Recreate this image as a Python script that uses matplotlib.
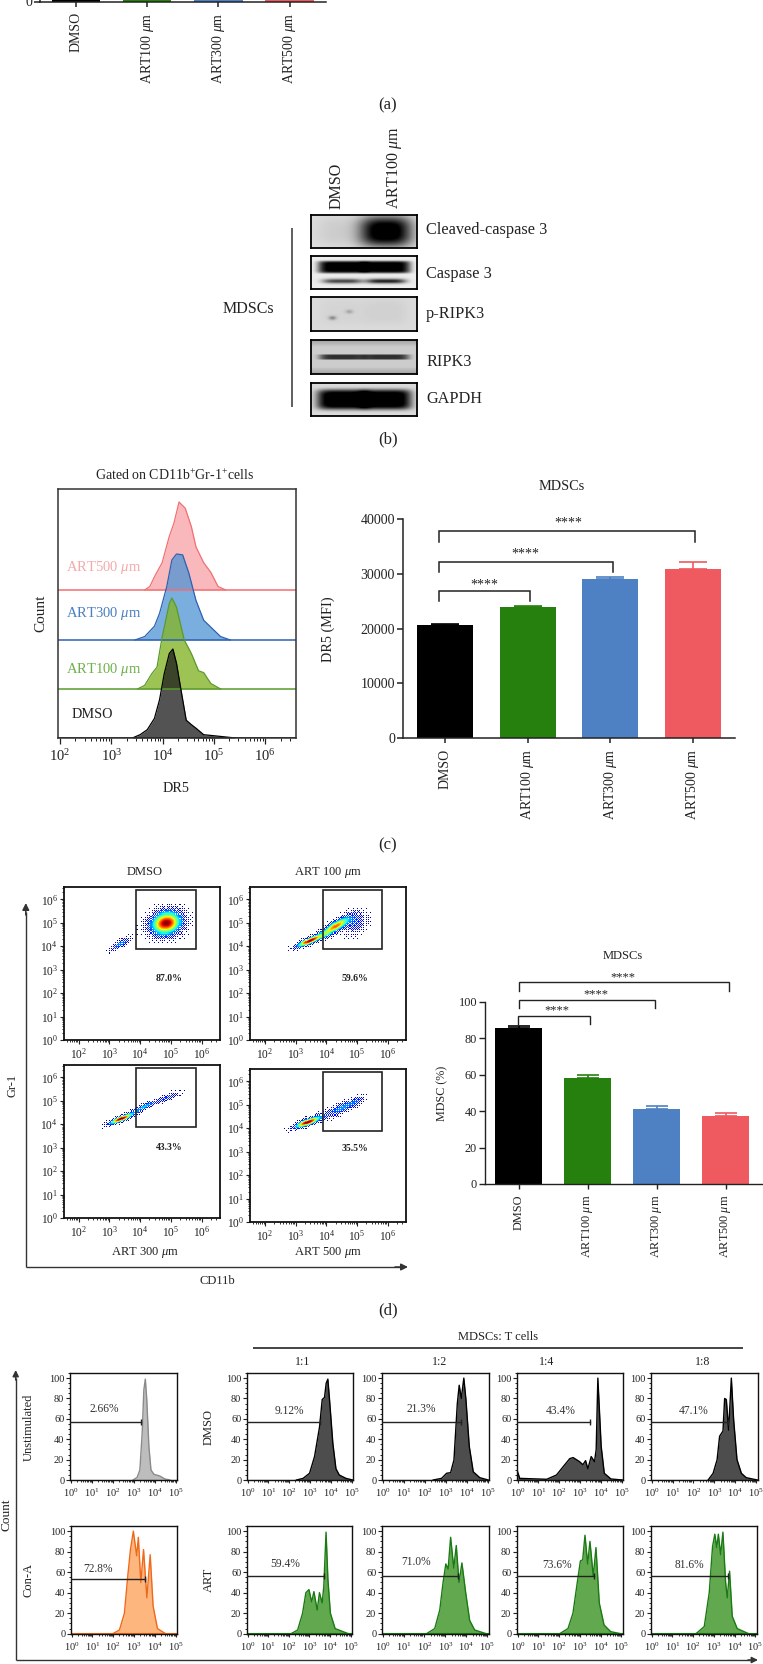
import numpy as np
import matplotlib
matplotlib.use('Agg')
import matplotlib.pyplot as plt
from matplotlib.ticker import LogLocator, NullFormatter, LogFormatterMathtext, MultipleLocator
from matplotlib.patches import Rectangle

plt.rcParams['font.family'] = ['Liberation Serif', 'DejaVu Serif']
plt.rcParams['mathtext.fontset'] = 'custom'
plt.rcParams['mathtext.rm'] = 'Liberation Serif'
plt.rcParams['mathtext.it'] = 'Liberation Serif:italic'
plt.rcParams['mathtext.bf'] = 'Liberation Serif:bold'
plt.rcParams['text.color'] = '#222222'
plt.rcParams['axes.edgecolor'] = '#222222'
plt.rcParams['xtick.color'] = '#222222'
plt.rcParams['ytick.color'] = '#222222'

# ------------------------- data -------------------------
groups = ['DMSO', r'ART100 $\mu$m', r'ART300 $\mu$m', r'ART500 $\mu$m']
bar_colors = ['#000000', '#26800e', '#4e80c4', '#ee5a60']

# (a) only the foot of the bars is visible in the crop
a_visible = [1, 1, 1, 1]

# (b) blots: band darkness in lane 1 / lane 2
blot_names = ['Cleaved-caspase 3', 'Caspase 3', 'p-RIPK3', 'RIPK3', 'GAPDH']
blot_main_lane1 = [0.07, 1.0, 0.03, 0.62, 1.0]
blot_main_lane2 = [1.0, 1.0, 0.04, 0.62, 1.0]

# (c) DR5 histograms: log10(DR5), % of peak
dr5_dmso_e = [3.41, 3.56, 3.70, 3.84, 3.94, 4.03, 4.13, 4.20, 4.27, 4.37, 4.46, 4.56, 4.65, 4.80, 4.99, 5.42]
dr5_dmso_h = [0, 3.7, 9.3, 22, 43, 72, 95, 100, 84, 50, 20, 15, 11, 3.7, 2.6, 0]
dr5_100_e = [3.51, 3.65, 3.79, 3.89, 3.99, 4.13, 4.18, 4.27, 4.42, 4.56, 4.70, 4.80, 4.94, 5.13]
dr5_100_h = [0, 4, 17, 24, 57, 94, 100, 90, 54, 39, 20, 18, 6, 0]
dr5_300_e = [3.46, 3.65, 3.84, 3.94, 4.08, 4.18, 4.27, 4.39, 4.51, 4.65, 4.80, 4.99, 5.13, 5.32]
dr5_300_h = [0, 4, 16, 31, 62, 93, 100, 99, 78, 46, 23, 12, 4, 0]
dr5_500_e = [3.65, 3.75, 3.84, 3.99, 4.13, 4.22, 4.32, 4.44, 4.56, 4.65, 4.80, 4.94, 5.08, 5.23]
dr5_500_h = [0, 4, 15, 31, 61, 76, 100, 93, 72, 49, 31, 20, 4, 0]

# (c) DR5 MFI bars
mfi_values = [20580, 24050, 29100, 30870]
mfi_err = [240, 120, 370, 1280]

# (d) flow clusters: x, y (log10), sd x, sd y, correlation, weight
flow_dmso = [(4.85, 4.99, .36, .36, .15, 1.0), (3.36, 4.10, .22, .20, .80, .40)]
flow_100 = [(3.46, 4.24, .30, .20, .85, 1.0), (4.30, 4.85, .30, .28, .80, .85), (4.95, 5.00, .28, .35, .30, .30)]
flow_300 = [(3.38, 4.24, .27, .17, .85, 1.0), (4.15, 4.75, .25, .17, .85, .45), (4.90, 5.15, .27, .17, .80, .30)]
flow_500 = [(3.40, 4.27, .30, .18, .80, 1.0), (4.50, 4.85, .35, .25, .75, .40), (5.00, 5.20, .20, .15, .60, .20)]
flow_pct = ['87.0%', '59.6%', '43.3%', '35.5%']

# (d) MDSC bars
mdsc_values = [85.9, 58.3, 41.0, 37.5]
mdsc_err = [1.1, 1.7, 1.8, 1.4]

# (e) proliferation histograms: log10(signal), % of max
un_e = [2.98, 3.17, 3.30, 3.41, 3.49, 3.56, 3.63, 3.73, 3.83, 3.97, 4.25, 4.49, 4.73]
un_h = [0, 2.6, 9.8, 45.9, 88.5, 99, 78.7, 32.8, 9.8, 5.6, 3.9, 1, 0]
con_e = [1.98, 2.30, 2.54, 2.70, 2.83, 2.97, 3.13, 3.21, 3.33, 3.46, 3.62, 3.78, 3.92, 4.13, 4.52]
con_h = [0, 3.6, 20, 56, 82, 100, 76, 94, 50, 82, 35, 77, 27, 5, 0]
d11_e = [2.35, 2.67, 2.98, 3.22, 3.46, 3.59, 3.70, 3.78, 3.86, 3.94, 4.10, 4.25, 4.41, 4.73, 5.05]
d11_h = [0, 1.6, 6.6, 23, 52, 79, 81, 95, 99, 79, 36, 11, 4.9, 1.6, 0]
d12_e = [2.41, 2.81, 3.05, 3.24, 3.40, 3.56, 3.65, 3.75, 3.87, 3.97, 4.13, 4.32, 4.63, 5.03]
d12_h = [0, 1.6, 6.6, 7.2, 19.7, 75, 93, 80, 100, 79, 33, 8, 2.3, 0]
d14_e = [0, .1, 1.40, 1.87, 2.19, 2.51, 2.67, 2.98, 3.14, 3.27, 3.38, 3.54, 3.70, 3.78, 3.86, 4.02, 4.17, 4.49, 5.05]
d14_h = [8, 1.6, .7, 4.9, 13, 21, 22, 18, 15, 19, 11, 23, 18, 30, 100, 33, 6.6, 1, 0]
d18_e = [2.70, 2.94, 3.13, 3.25, 3.41, 3.49, 3.57, 3.68, 3.81, 3.92, 4.08, 4.29, 4.52, 5.05]
d18_h = [0, 6.6, 20, 43, 48, 80, 79, 49, 100, 59, 20, 6.6, 2.3, 0]
a11_e = [2.11, 2.43, 2.67, 2.83, 2.98, 3.11, 3.22, 3.38, 3.49, 3.62, 3.70, 3.81, 3.90, 4.02, 4.25, 4.89]
a11_h = [0, 3.6, 20, 40, 43, 31, 41, 23, 40, 30, 46, 99, 53, 20, 5, 0]
a12_e = [2.10, 2.49, 2.73, 2.89, 3.02, 3.13, 3.25, 3.40, 3.52, 3.65, 3.79, 3.97, 4.16, 4.40, 4.95]
a12_h = [0, 5, 23, 50, 68, 63, 94, 64, 86, 50, 69, 40, 13, 3.6, 0]
a14_e = [2.03, 2.43, 2.67, 2.90, 3.03, 3.14, 3.25, 3.38, 3.49, 3.65, 3.78, 3.94, 4.17, 4.49, 4.97]
a14_h = [0, 5, 20, 53, 71, 72, 96, 68, 90, 56, 84, 30, 8.5, 2, 0]
a18_e = [2.14, 2.54, 2.78, 2.94, 3.05, 3.14, 3.22, 3.33, 3.44, 3.57, 3.65, 3.76, 3.89, 4.13, 4.68]
a18_h = [0, 7, 40, 85, 97, 84, 97, 77, 99, 50, 35, 61, 17, 5, 0]

# ------------------------- layout helpers -------------------------
W, H = 763, 1664
fig = plt.figure(figsize=(W / 100, H / 100), dpi=100, facecolor='white')


def axpx(x0, y0, x1, y1, **kw):
    return fig.add_axes([x0 / W, 1 - y1 / H, (x1 - x0) / W, (y1 - y0) / H], **kw)


ov = fig.add_axes([0, 0, 1, 1], zorder=20)
ov.set_xlim(0, W)
ov.set_ylim(H, 0)
ov.axis('off')
ov.patch.set_alpha(0)


def T(x, y, s, size=10, rot=0, color='#222222', ha='center', va='center', **kw):
    ov.text(x, y, s, fontsize=size, rotation=rot, color=color, ha=ha, va=va,
            rotation_mode='anchor', **kw)


def L(xs, ys, lw=1.1, color='#222222'):
    ov.plot(xs, ys, lw=lw, color=color, solid_capstyle='butt')


def arrow(x0, y0, x1, y1, lw=1.1, color='#333333', ms=9):
    ov.annotate('', xy=(x1, y1), xytext=(x0, y0),
                arrowprops=dict(arrowstyle='-|>', lw=lw, color=color, shrinkA=0, shrinkB=0,
                                mutation_scale=ms))


def logaxis(axis, size, lenmaj=3, lenmin=1.6, width=.8, pad=2):
    axis.set_major_locator(LogLocator(base=10, numticks=12))
    axis.set_minor_locator(LogLocator(base=10, subs=tuple(range(2, 10)), numticks=12))
    axis.set_major_formatter(LogFormatterMathtext())
    axis.set_minor_formatter(NullFormatter())
    axis.set_tick_params(which='major', length=lenmaj, width=width, labelsize=size, pad=pad)
    axis.set_tick_params(which='minor', length=lenmin, width=width * .8)


def barpanel(ax, values, err, cap, size, pad=3, lw=1.1, tl=3.6):
    x = np.arange(4)
    ax.bar(x, values, width=.68, color=bar_colors, zorder=2)
    if err is not None:
        for xi, v, e, c in zip(x, values, err, bar_colors):
            ax.errorbar(xi, v, yerr=[[0], [e]], color=c, capsize=cap, lw=1.2, capthick=1.2, zorder=1)
    for s in ('top', 'right'):
        ax.spines[s].set_visible(False)
    for s in ('left', 'bottom'):
        ax.spines[s].set_linewidth(lw)
    ax.set_xticks(x)
    ax.set_xticklabels(groups, rotation=90, ha='center', va='top', fontsize=size)
    ax.tick_params(axis='x', length=tl, width=lw, pad=pad)
    ax.tick_params(axis='y', length=tl + .6, width=lw, labelsize=size, pad=1.5)


def bracket(ax, x0, x1, ytop, ydrop_l, ydrop_r, lw=1.1):
    ax.plot([x0, x0, x1, x1], [ydrop_l, ytop, ytop, ydrop_r], color='#222222', lw=lw, clip_on=False,
            solid_joinstyle='miter')


# ------------------------- (a) -------------------------
ax = axpx(40, 0, 326, 1.5)
barpanel(ax, a_visible, None, 0, 10, pad=4)
ax.set_xlim(-0.505, 3.51)
ax.set_ylim(0, 1)
ax.set_yticks([0])
T(388, 105, '(a)', 12)

# ------------------------- (b) -------------------------
T(337, 209, 'DMSO', 11.5, 90, ha='left')
T(395, 209, r'ART100 $\mu$m', 11.5, 90, ha='left')
boxes = [(215, 248), (256, 289), (297, 331), (340, 374), (383, 416)]
label_y = [230, 274, 314, 362, 399]
backgrounds = [.87, .93, .86, .74, .86]
band_y = [.5, .33, .45, .5, .5]
band_rx = [.24, .23, .22, .22, .24]
band_ry = [.46, .19, .40, .08, .31]
band_p = [3, 6, 4, 6, 5]
for i, (y0, y1) in enumerate(boxes):
    b = axpx(311, y0, 417, y1)
    xx, yy = np.meshgrid(np.linspace(0, 1, 106), np.linspace(0, 1, y1 - y0))
    img = np.full_like(xx, backgrounds[i])
    for cx, dark in ((.295, blot_main_lane1[i]), (.71, blot_main_lane2[i])):
        r = np.abs((xx - cx) / band_rx[i]) ** band_p[i] + np.abs((yy - band_y[i]) / band_ry[i]) ** band_p[i]
        img -= dark * np.exp(-r)
    if i == 1:
        for cx, dk in ((.295, .65), (.71, .8)):
            r = np.abs((xx - cx) / .19) ** 4 + np.abs((yy - .77) / .075) ** 2
            img -= dk * np.exp(-r)
    if i == 2:
        for sx, sy, dk in ((.36, .43, .18), (.2, .62, .3)):
            img -= dk * np.exp(-((xx - sx) / .035) ** 2 - ((yy - sy) / .06) ** 2)
    if i == 3:
        edge = np.minimum(yy, 1 - yy)
        img = img + .16 * np.clip(edge / .2, 0, 1) - .1
    b.imshow(np.clip(img, 0, 1), cmap='gray', vmin=0, vmax=1, aspect='auto', interpolation='bilinear')
    b.set_xticks([])
    b.set_yticks([])
    for s in b.spines.values():
        s.set_linewidth(1.3)
        s.set_color('black')
    T(426, label_y[i], blot_names[i], 11.7, ha='left')
L([292, 292], [228, 407], 1.1, '#333333')
T(248, 309, 'MDSCs', 11.5)
T(388, 439, '(b)', 12)

# ------------------------- (c) left -------------------------
ax = axpx(58, 489, 296, 738)
ax.set_xscale('log')
ax.set_xlim(10 ** 1.96, 10 ** 6.6)
ax.set_ylim(0, 249)
rows = [
    (dr5_500_e, dr5_500_h, 148, 88, '#f26f72', '#f8a6aa', 0.8),
    (dr5_300_e, dr5_300_h, 98, 86, '#2d62b0', '#4e93d5', 0.75),
    (dr5_100_e, dr5_100_h, 49, 91, '#5a9a2a', '#86b52a', 0.8),
    (dr5_dmso_e, dr5_dmso_h, 0, 89, '#000000', '#1a1a1a', 0.75),
]
for e, h, off, scale, line, fill, al in rows:
    xs = 10 ** np.array(e)
    ys = off + np.array(h) / 100 * scale
    ax.fill_between(xs, off, ys, color=fill, alpha=al, lw=0)
    ax.plot(xs, ys, color=line, lw=.9)
    ax.axhline(off, color=line, lw=1.1)
ax.set_yticks([])
logaxis(ax.xaxis, 10.5, 4, 2.2, .9, pad=3)
for s in ax.spines.values():
    s.set_linewidth(1.1)
    s.set_color('#333333')
T(175, 475, r'Gated on CD11b$^{+}$Gr-1$^{+}$cells', 10)
T(103.5, 567, r'ART500 $\mu$m', 10.5, color='#f5a9a9')
T(103.5, 613, r'ART300 $\mu$m', 10.5, color='#4a7fc0')
T(103.5, 669, r'ART100 $\mu$m', 10.5, color='#6fb04a')
T(92, 714, 'DMSO', 10.3)
T(41, 613, 'Count', 11, 90)
T(176, 789, 'DR5', 10.3)

# ------------------------- (c) right -------------------------
ax = axpx(403, 519.3, 735, 738)
barpanel(ax, mfi_values, mfi_err, 10, 10, pad=4)
ax.set_xlim(-0.508, 3.51)
ax.set_ylim(0, 40000)
ax.set_yticks(range(0, 40001, 10000))
bracket(ax, -0.07, 1.03, 26970, 25140, 25140)
bracket(ax, -0.07, 2.03, 32270, 30440, 30440)
bracket(ax, -0.07, 3.03, 37800, 35920, 35920)
T(484, 585, '****', 10)
T(525, 554, '****', 10)
T(568, 523, '****', 10)
T(562, 487, 'MDSCs', 10.3)
T(328, 629, 'DR5 (MFI)', 10.3, 90)
T(388, 845, '(c)', 12)

# ------------------------- (d) flow -------------------------
flow_boxes = [(63.7, 887, 220, 1040), (250, 887, 406, 1040), (63.7, 1065, 220, 1218), (250, 1069, 406, 1222)]
flow_sets = [flow_dmso, flow_100, flow_300, flow_500]
pct_y = [2.63, 2.63, 2.99, 3.14]
ge = np.arange(1.5, 6.6, .035)
gy = np.arange(0, 6.55, .045)
bayer = np.array([[0, 8, 2, 10], [12, 4, 14, 6], [3, 11, 1, 9], [15, 7, 13, 5]]) / 15
for box, clusters, pct, py in zip(flow_boxes, flow_sets, flow_pct, pct_y):
    ax = axpx(*box)
    ax.set_xscale('log')
    ax.set_yscale('log')
    xc, yc = np.meshgrid((ge[:-1] + ge[1:]) / 2, (gy[:-1] + gy[1:]) / 2)
    d = np.zeros_like(xc)
    for cx, cy, sx, sy, rho, w in clusters:
        u = (xc - cx) / sx
        v = (yc - cy) / sy
        d += w * np.exp(-(u * u - 2 * rho * u * v + v * v) / (2 * (1 - rho * rho)))
    d = d / d.max()
    # ordered halftone of the density, so that thin regions read as separate dots
    pat = np.tile(bayer, (d.shape[0] // 4 + 1, d.shape[1] // 4 + 1))[:d.shape[0], :d.shape[1]]
    shown = np.ma.masked_where(d < .03 + .42 * pat, d ** 1.4)
    ax.pcolormesh(10 ** ge, 10 ** gy, shown, cmap='jet', vmin=0, vmax=1.0, shading='flat',
                  linewidth=0, rasterized=True)
    ax.set_xlim(10 ** 1.51, 10 ** 6.6)
    ax.set_ylim(1, 10 ** 6.53)
    logaxis(ax.xaxis, 8.3, 2.6, 1.4, .8, pad=2.5)
    logaxis(ax.yaxis, 8.3, 2.6, 1.4, .8, pad=1.5)
    for s in ax.spines.values():
        s.set_linewidth(1.3)
        s.set_color('#111111')
    ax.add_patch(Rectangle((10 ** 3.88, 10 ** 3.87), 10 ** 5.82 - 10 ** 3.88, 10 ** 6.41 - 10 ** 3.87,
                           fill=False, ec='#222222', lw=1.2, zorder=5))
    ax.text(10 ** 4.95, 10 ** py, pct, fontsize=7, fontweight='bold', ha='center', va='center', zorder=6)
T(145, 872, 'DMSO', 9)
T(328, 872, r'ART 100 $\mu$m', 9)
T(145, 1252, r'ART 300 $\mu$m', 9)
T(328, 1252, r'ART 500 $\mu$m', 9)
L([25.8, 25.8], [1267, 912], 1.0, '#333333')
L([25.8, 400], [1267, 1267], 1.0, '#333333')
arrow(25.8, 915, 25.8, 903, ms=10)
arrow(395, 1267, 408, 1267, ms=10)
T(12, 1085, 'Gr-1', 9, 90)
T(217, 1281, 'CD11b', 9)
T(388, 1310, '(d)', 12)

# ------------------------- (d) bars -------------------------
ax = axpx(485, 1002, 762, 1184)
barpanel(ax, mdsc_values, mdsc_err, 8, 8.8, pad=4, lw=1.0)
ax.set_xlim(-0.49, 3.525)
ax.set_ylim(0, 100)
ax.set_yticks(range(0, 101, 20))
bracket(ax, -0.01, 1.03, 92.3, 87.7, 88.1, 1.0)
bracket(ax, 0.01, 1.98, 101.1, 96.7, 96.7, 1.0)
bracket(ax, 0.01, 3.04, 110.8, 106, 106, 1.0)
T(557, 1010, '****', 9)
T(596, 994, '****', 9)
T(623, 977, '****', 9)
T(623, 956, 'MDSCs', 9)
T(442, 1093, 'MDSC (%)', 8.7, 90)

# ------------------------- (e) -------------------------
gray = ('#8a8a8a', '#bdbdbd')
dark = ('#000000', '#4d4d4d')
orange = ('#f0691a', '#fcb67e')
green = ('#1a7a14', '#62a84e')
hist_panels = [
    ((70, 1373, 177, 1480), un_e, un_h, gray, 57, 3.35, '2.66%', 1.59, 69.8),
    ((247, 1373, 353, 1480), d11_e, d11_h, dark, 57, 3.46, '9.12%', 2.03, 67.9),
    ((382, 1373, 489, 1480), d12_e, d12_h, dark, 57, 3.73, '21.3%', 1.83, 69.8),
    ((517, 1373, 623, 1480), d14_e, d14_h, dark, 57, 3.48, '43.4%', 2.08, 67.9),
    ((651, 1373, 757.7, 1480), d18_e, d18_h, dark, 57, 3.65, '47.1%', 2.02, 67.9),
    ((71, 1526, 177, 1633.7), con_e, con_h, orange, 53, 3.51, '72.8%', 1.27, 62.6),
    ((247, 1526, 352, 1633.7), a11_e, a11_h, green, 56.7, 3.70, '59.4%', 1.83, 68),
    ((382, 1526, 488.7, 1633.7), a12_e, a12_h, green, 56.7, 3.60, '71.0%', 1.62, 70),
    ((517, 1526, 622.7, 1633.7), a14_e, a14_h, green, 56.7, 3.67, '73.6%', 1.89, 67),
    ((651, 1526, 756.7, 1633.7), a18_e, a18_h, green, 56.7, 3.68, '81.6%', 1.83, 67),
]
for box, e, h, (line, fill), gy_, gx, pct, tx, ty in hist_panels:
    ax = axpx(*box)
    ax.set_xscale('log')
    xs = 10 ** np.array(e)
    ax.fill_between(xs, 0, h, color=fill, lw=0)
    ax.plot(xs, h, color=line, lw=1.0, solid_joinstyle='round')
    ax.axhline(0.4, color=line, lw=.8, xmin=.01)
    ax.set_xlim(10 ** -0.03, 10 ** 5.07)
    ax.set_ylim(0, 105)
    logaxis(ax.xaxis, 7.4, 2.4, 1.3, .8, pad=2.6)
    ax.yaxis.set_major_locator(MultipleLocator(20))
    ax.yaxis.set_minor_locator(MultipleLocator(5))
    ax.yaxis.set_tick_params(which='major', length=2.6, width=.8, labelsize=7.4, pad=1.5)
    ax.yaxis.set_tick_params(which='minor', length=1.3, width=.7)
    for s in ax.spines.values():
        s.set_linewidth(1.0)
        s.set_color('#111111')
    ax.plot([10 ** -0.03, 10 ** gx], [gy_, gy_], color='#222222', lw=1.0, zorder=5, clip_on=True)
    ax.plot([10 ** gx], [gy_], marker='|', ms=5, mew=1.0, color='#222222', zorder=5)
    ax.text(10 ** tx, ty, pct, fontsize=8.3, ha='center', va='center', color='#333333', zorder=6)
L([253, 743], [1348, 1348], 1.1, '#111111')
T(498, 1337, 'MDSCs: T cells', 9)
T(303, 1362, '1:1', 8.6)
T(440, 1362, '1:2', 8.6)
T(547, 1362, '1:4', 8.6)
T(703, 1362, '1:8', 8.6)
T(29, 1427, 'Unstimulated', 9, 90)
T(29, 1580, 'Con-A', 9, 90)
T(209, 1427, 'DMSO', 9, 90)
T(209, 1580, 'ART', 9, 90)
T(7, 1515, 'Count', 9.5, 90)
L([15.7, 15.7], [1660, 1378], 1.0, '#333333')
L([15.7, 750], [1660, 1660], 1.0, '#333333')
arrow(15.7, 1380, 15.7, 1370, ms=9)
arrow(748, 1660, 758, 1660, ms=9)

fig.savefig('out.png', dpi=100, facecolor='white')
